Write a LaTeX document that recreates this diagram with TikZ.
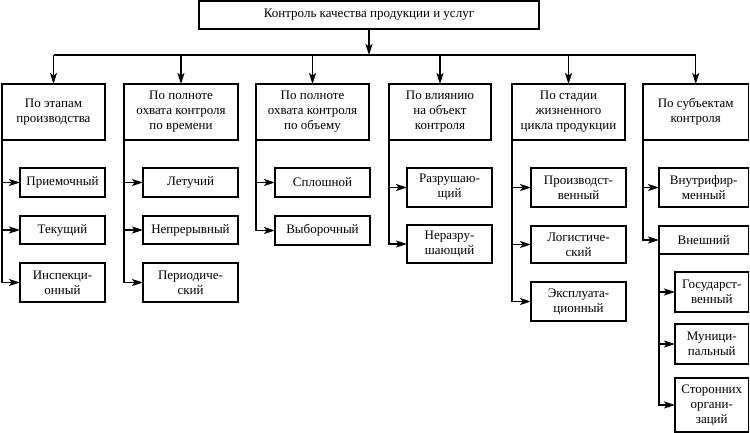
\documentclass[tikz,border=0pt]{standalone}
\usepackage{fontspec}
\setmainfont{Liberation Serif}
\usetikzlibrary{arrows.meta}

\tikzset{
	box/.style={draw, inner sep=1pt, outer sep=0pt, align=center, anchor=north west,
		font=\fontsize{13}{15}\selectfont},
	arr/.style={-{Stealth[length=11pt,width=7pt,inset=2.5pt]}},
}

\begin{document}
\begin{tikzpicture}[x=1pt, y=-1pt, line width=1.15pt]
			\useasboundingbox (0,0) rectangle (750,433);
			
			% top
			\node[box, minimum width=340, minimum height=28] (top) at (199,1) {Контроль качества продукции и услуг};
			\coordinate (bus) at (0,55);
			
			% first level
			\node[box, minimum width=103, minimum height=56] (etap) at (2,84) {По этапам\\производства};
			\node[box, minimum width=114, minimum height=56] (vrem) at (124,84) {По полноте\\охвата контроля\\по времени};
			\node[box, minimum width=113, minimum height=56] (obem) at (256,84) {По полноте\\охвата контроля\\по объему};
			\node[box, minimum width=102, minimum height=56] (vliy) at (389,84) {По влиянию\\на объект\\контроля};
			\node[box, minimum width=113, minimum height=56] (stad) at (512,84) {По стадии\\жизненного\\цикла продукции};
			\node[box, minimum width=105.5, minimum height=56] (subj) at (643,84) {По субъектам\\контроля};
			
			\draw[arr] (top.south) -- (top.south |- bus);
			\draw (etap.north |- bus) -- (subj.north |- bus);
			\foreach \n in {etap,vrem,obem,vliy,stad,subj}
			\draw[arr] (\n.north |- bus) -- (\n.north);
			
			% second level
			\node[box, minimum width=85, minimum height=29] (prie) at (20,168) {Приемочный};
			\node[box, minimum width=85, minimum height=28] (teku) at (20,216) {Текущий};
			\node[box, minimum width=85, minimum height=39] (insp) at (20,263) {Инспекци-\\онный};
			
			\node[box, minimum width=95, minimum height=29] (letu) at (143,168) {Летучий};
			\node[box, minimum width=95, minimum height=28] (nepr) at (143,216) {Непрерывный};
			\node[box, minimum width=95, minimum height=39] (peri) at (143,263) {Периодиче-\\ский};
			
			\node[box, minimum width=95, minimum height=29] (splo) at (275,168) {Сплошной};
			\node[box, minimum width=95, minimum height=29] (vybo) at (275,216) {Выборочный};
			
			\node[box, minimum width=85, minimum height=39] (razr) at (407,168) {Разрушаю-\\щий};
			\node[box, minimum width=85, minimum height=38] (nera) at (407,225) {Неразру-\\шающий};
			
			\node[box, minimum width=95, minimum height=39] (proi) at (531,168) {Производст-\\венный};
			\node[box, minimum width=95, minimum height=37] (logi) at (531,226) {Логистиче-\\ский};
			\node[box, minimum width=95, minimum height=39] (eksp) at (531,282) {Эксплуата-\\ционный};
			
			\node[box, minimum width=89.5, minimum height=39] (vnut) at (659,168) {Внутрифир-\\менный};
			\node[box, minimum width=89.5, minimum height=28] (vnes) at (659,226) {Внешний};
			
			% third level
			\node[box, minimum width=73.5, minimum height=40] (gosu) at (675,272) {Государст-\\венный};
			\node[box, minimum width=73.5, minimum height=40] (muni) at (675,324) {Муници-\\пальный};
			\node[box, minimum width=73.5, minimum height=54] (stor) at (675,378) {Сторонних\\органи-\\заций};
			
			\foreach \c in {prie,teku,insp}
			\draw[arr] (etap.south west) |- (\c.west);
			\foreach \c in {letu,nepr,peri}
			\draw[arr] (vrem.south west) |- (\c.west);
			\foreach \c in {splo,vybo}
			\draw[arr] (obem.south west) |- (\c.west);
			\foreach \c in {razr,nera}
			\draw[arr] (vliy.south west) |- (\c.west);
			\foreach \c in {proi,logi,eksp}
			\draw[arr] (stad.south west) |- (\c.west);
			\foreach \c in {vnut,vnes}
			\draw[arr] (subj.south west) |- (\c.west);
			\foreach \c in {gosu,muni,stor}
			\draw[arr] (vnes.south west) |- (\c.west);
		\end{tikzpicture}
\end{document}
